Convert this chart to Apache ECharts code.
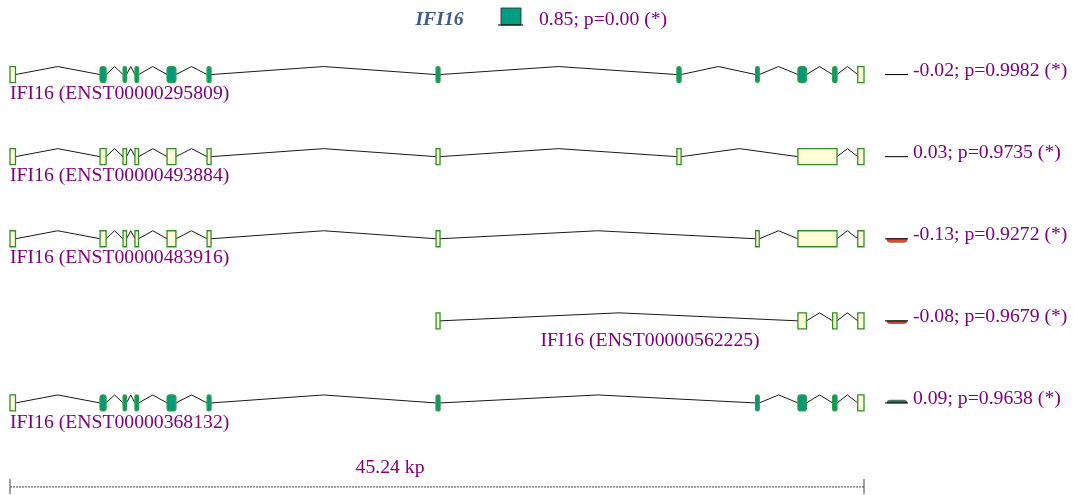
<!DOCTYPE html>
<html><head><meta charset="utf-8">
<script src="https://cdn.jsdelivr.net/npm/echarts@6/dist/echarts.min.js"></script>
<style>html,body{margin:0;padding:0;background:#fff}#c{width:1073px;height:495px}</style>
</head><body><div id="c"></div>
<script>
// ---- data ----
const geneName = 'IFI16';
const geneScore = 0.85;
const geneP = '0.00';
const geneLengthKb = 45.24;
const transcripts = ['ENST00000295809', 'ENST00000493884', 'ENST00000483916', 'ENST00000562225', 'ENST00000368132'];
const scores = [-0.02, 0.03, -0.13, -0.08, 0.09];
const pvalues = ['0.9982', '0.9735', '0.9272', '0.9679', '0.9638'];
// exons: [start kb, end kb, coding(1) / untranslated(0)]
const exons295809 = [[0,0.29,0],[4.77,5.09,1],[5.99,6.17,1],[6.62,6.81,1],[8.32,8.79,1],[10.44,10.65,1],[22.57,22.78,1],[35.33,35.55,1],[39.50,39.69,1],[41.74,42.19,1],[43.58,43.81,1],[44.91,45.24,0]];
const exons493884 = [[0,0.29,0],[4.77,5.09,0],[5.99,6.17,0],[6.62,6.81,0],[8.32,8.79,0],[10.44,10.65,0],[22.57,22.78,0],[35.33,35.55,0],[41.74,43.81,0],[44.91,45.24,0]];
const exons483916 = [[0,0.29,0],[4.77,5.09,0],[5.99,6.17,0],[6.62,6.81,0],[8.32,8.79,0],[10.44,10.65,0],[22.57,22.78,0],[39.50,39.69,0],[41.74,43.81,0],[44.91,45.24,0]];
const exons562225 = [[22.57,22.78,0],[41.74,42.19,0],[43.58,43.81,0],[44.91,45.24,0]];
const exons368132 = [[0,0.29,0],[4.77,5.09,1],[5.99,6.17,1],[6.62,6.81,1],[8.32,8.79,1],[10.44,10.65,1],[22.57,22.78,1],[39.50,39.69,1],[41.74,42.19,1],[43.58,43.81,1],[44.91,45.24,0]];
const exonSets = [exons295809, exons493884, exons483916, exons562225, exons368132];

// ---- styles ----
const PURPLE = '#800080';
const FONT = '"Liberation Serif", "DejaVu Serif", serif';
const FS = 19.7;
const CODING_FILL = '#02987a', CODING_STROKE = '#2f9f45';
const UTR_FILL = '#ffffd6', UTR_STROKE = '#2e8f24';
const EXON_H = 16, SCORE_PX = 20;
function scoreColor(v) { return v >= 0 ? '#127a62' : (v < -0.1 ? '#e24a2c' : '#c0442c'); }

function markerShapes(x0, y, v) {
  const out = [];
  const h = Math.abs(v) * SCORE_PX;
  if (h >= 0.8) {
    const hh = h + 1;
    out.push({ type: 'rect', shape: { x: x0 + 2, y: v >= 0 ? y - hh : y, width: 20, height: hh, r: [v >= 0 ? 3 : 0, v >= 0 ? 3 : 0, v >= 0 ? 0 : 3, v >= 0 ? 0 : 3] },
      style: { fill: scoreColor(v), stroke: '#5a2a1a', lineWidth: 0.5 } });
  }
  out.push({ type: 'line', shape: { x1: x0, y1: y, x2: x0 + 23, y2: y }, style: { stroke: '#111', lineWidth: 1.1 } });
  return out;
}

const chart = echarts.init(document.getElementById('c'), null, { renderer: 'canvas' });

function renderTranscript(params, api) {
  const i = api.value(0);
  const ex = exonSets[i];
  const yc = api.coord([0, i])[1];
  const children = [];
  // introns
  for (let k = 0; k < ex.length - 1; k++) {
    const a = api.coord([ex[k][1], i])[0];
    const b = api.coord([ex[k + 1][0], i])[0];
    children.push({ type: 'polyline', shape: { points: [[a, yc], [(a + b) / 2, yc - EXON_H / 2], [b, yc]] },
      style: { stroke: '#1a1a1a', lineWidth: 1, fill: null } });
  }
  // exons
  ex.forEach(e => {
    const a = api.coord([e[0], i])[0];
    const b = api.coord([e[1], i])[0];
    const coding = e[2] === 1;
    children.push({ type: 'rect', shape: { x: a, y: yc - EXON_H / 2, width: Math.max(b - a, 3), height: EXON_H, r: coding ? 3 : 0 },
      style: { fill: coding ? CODING_FILL : UTR_FILL, stroke: coding ? CODING_STROKE : UTR_STROKE, lineWidth: 1.3 } });
  });
  // label
  const s = api.coord([ex[0][0], i])[0];
  const eEnd = api.coord([ex[ex.length - 1][1], i])[0];
  const leftAligned = ex[0][0] === 0;
  children.push({ type: 'text', style: { text: geneName + ' (' + transcripts[i] + ')', x: leftAligned ? s : (s + eEnd) / 2,
    y: yc + 19.5, fill: PURPLE, fontSize: FS, fontFamily: FONT, align: leftAligned ? 'left' : 'center', verticalAlign: 'middle' } });
  // right score marker and text
  const xr = api.coord([geneLengthKb, i])[0];
  markerShapes(xr + 21, yc, scores[i]).forEach(m => children.push(m));
  children.push({ type: 'text', style: { text: scores[i].toFixed(2) + '; p=' + pvalues[i] + ' (*)',
    x: xr + 49, y: yc - 4, fill: PURPLE, fontSize: FS, fontFamily: FONT, align: 'left', verticalAlign: 'middle' } });
  return { type: 'group', children };
}

function renderScale(params, api) {
  const a = api.coord([api.value(0), transcripts.length - 1]);
  const b = api.coord([api.value(1), transcripts.length - 1]);
  const y = a[1] + 84;
  return { type: 'group', children: [
    { type: 'line', shape: { x1: a[0], y1: y, x2: b[0], y2: y }, style: { stroke: '#444', lineWidth: 1, lineDash: [2, 1] } },
    { type: 'line', shape: { x1: a[0], y1: y - 8, x2: a[0], y2: y + 7 }, style: { stroke: '#444', lineWidth: 1 } },
    { type: 'line', shape: { x1: b[0], y1: y - 8, x2: b[0], y2: y + 7 }, style: { stroke: '#444', lineWidth: 1 } },
    { type: 'text', style: { text: api.value(1).toFixed(2) + ' kp', x: a[0] + (b[0] - a[0]) * 0.445, y: y - 19,
      fill: PURPLE, fontSize: FS, fontFamily: FONT, align: 'center', verticalAlign: 'middle' } }
  ] };
}

// legend: gene-level score square drawn with the same scale as the transcript markers
const legendMarker = [
  { type: 'rect', shape: { x: 501, y: 25 - geneScore * SCORE_PX, width: 20, height: geneScore * SCORE_PX },
    style: { fill: '#009e80', stroke: '#222', lineWidth: 0.8 } },
  { type: 'line', shape: { x1: 498, y1: 25, x2: 523, y2: 25 }, style: { stroke: '#111', lineWidth: 1.1 } }
];

chart.setOption({
  animation: false,
  grid: { left: 10, width: 854, top: 33.5, height: 410.5 },
  xAxis: { type: 'value', min: 0, max: geneLengthKb, show: false },
  yAxis: { type: 'value', min: -0.5, max: transcripts.length - 0.5, inverse: true, show: false },
  graphic: [
    { type: 'text', style: { text: geneName, x: 439.5, y: 19.5, fill: '#405a8c', fontSize: FS, fontFamily: FONT,
      fontStyle: 'italic', fontWeight: 'bold', align: 'center', verticalAlign: 'middle' } },
    ...legendMarker,
    { type: 'text', style: { text: geneScore.toFixed(2) + '; p=' + geneP + ' (*)', x: 539, y: 19.5, fill: PURPLE,
      fontSize: FS, fontFamily: FONT, align: 'left', verticalAlign: 'middle' } }
  ],
  series: [
    { type: 'custom', renderItem: renderTranscript, data: transcripts.map((t, i) => [i]), clip: false, silent: true },
    { type: 'custom', renderItem: renderScale, data: [[0, geneLengthKb]], clip: false, silent: true }
  ]
});
</script></body></html>
